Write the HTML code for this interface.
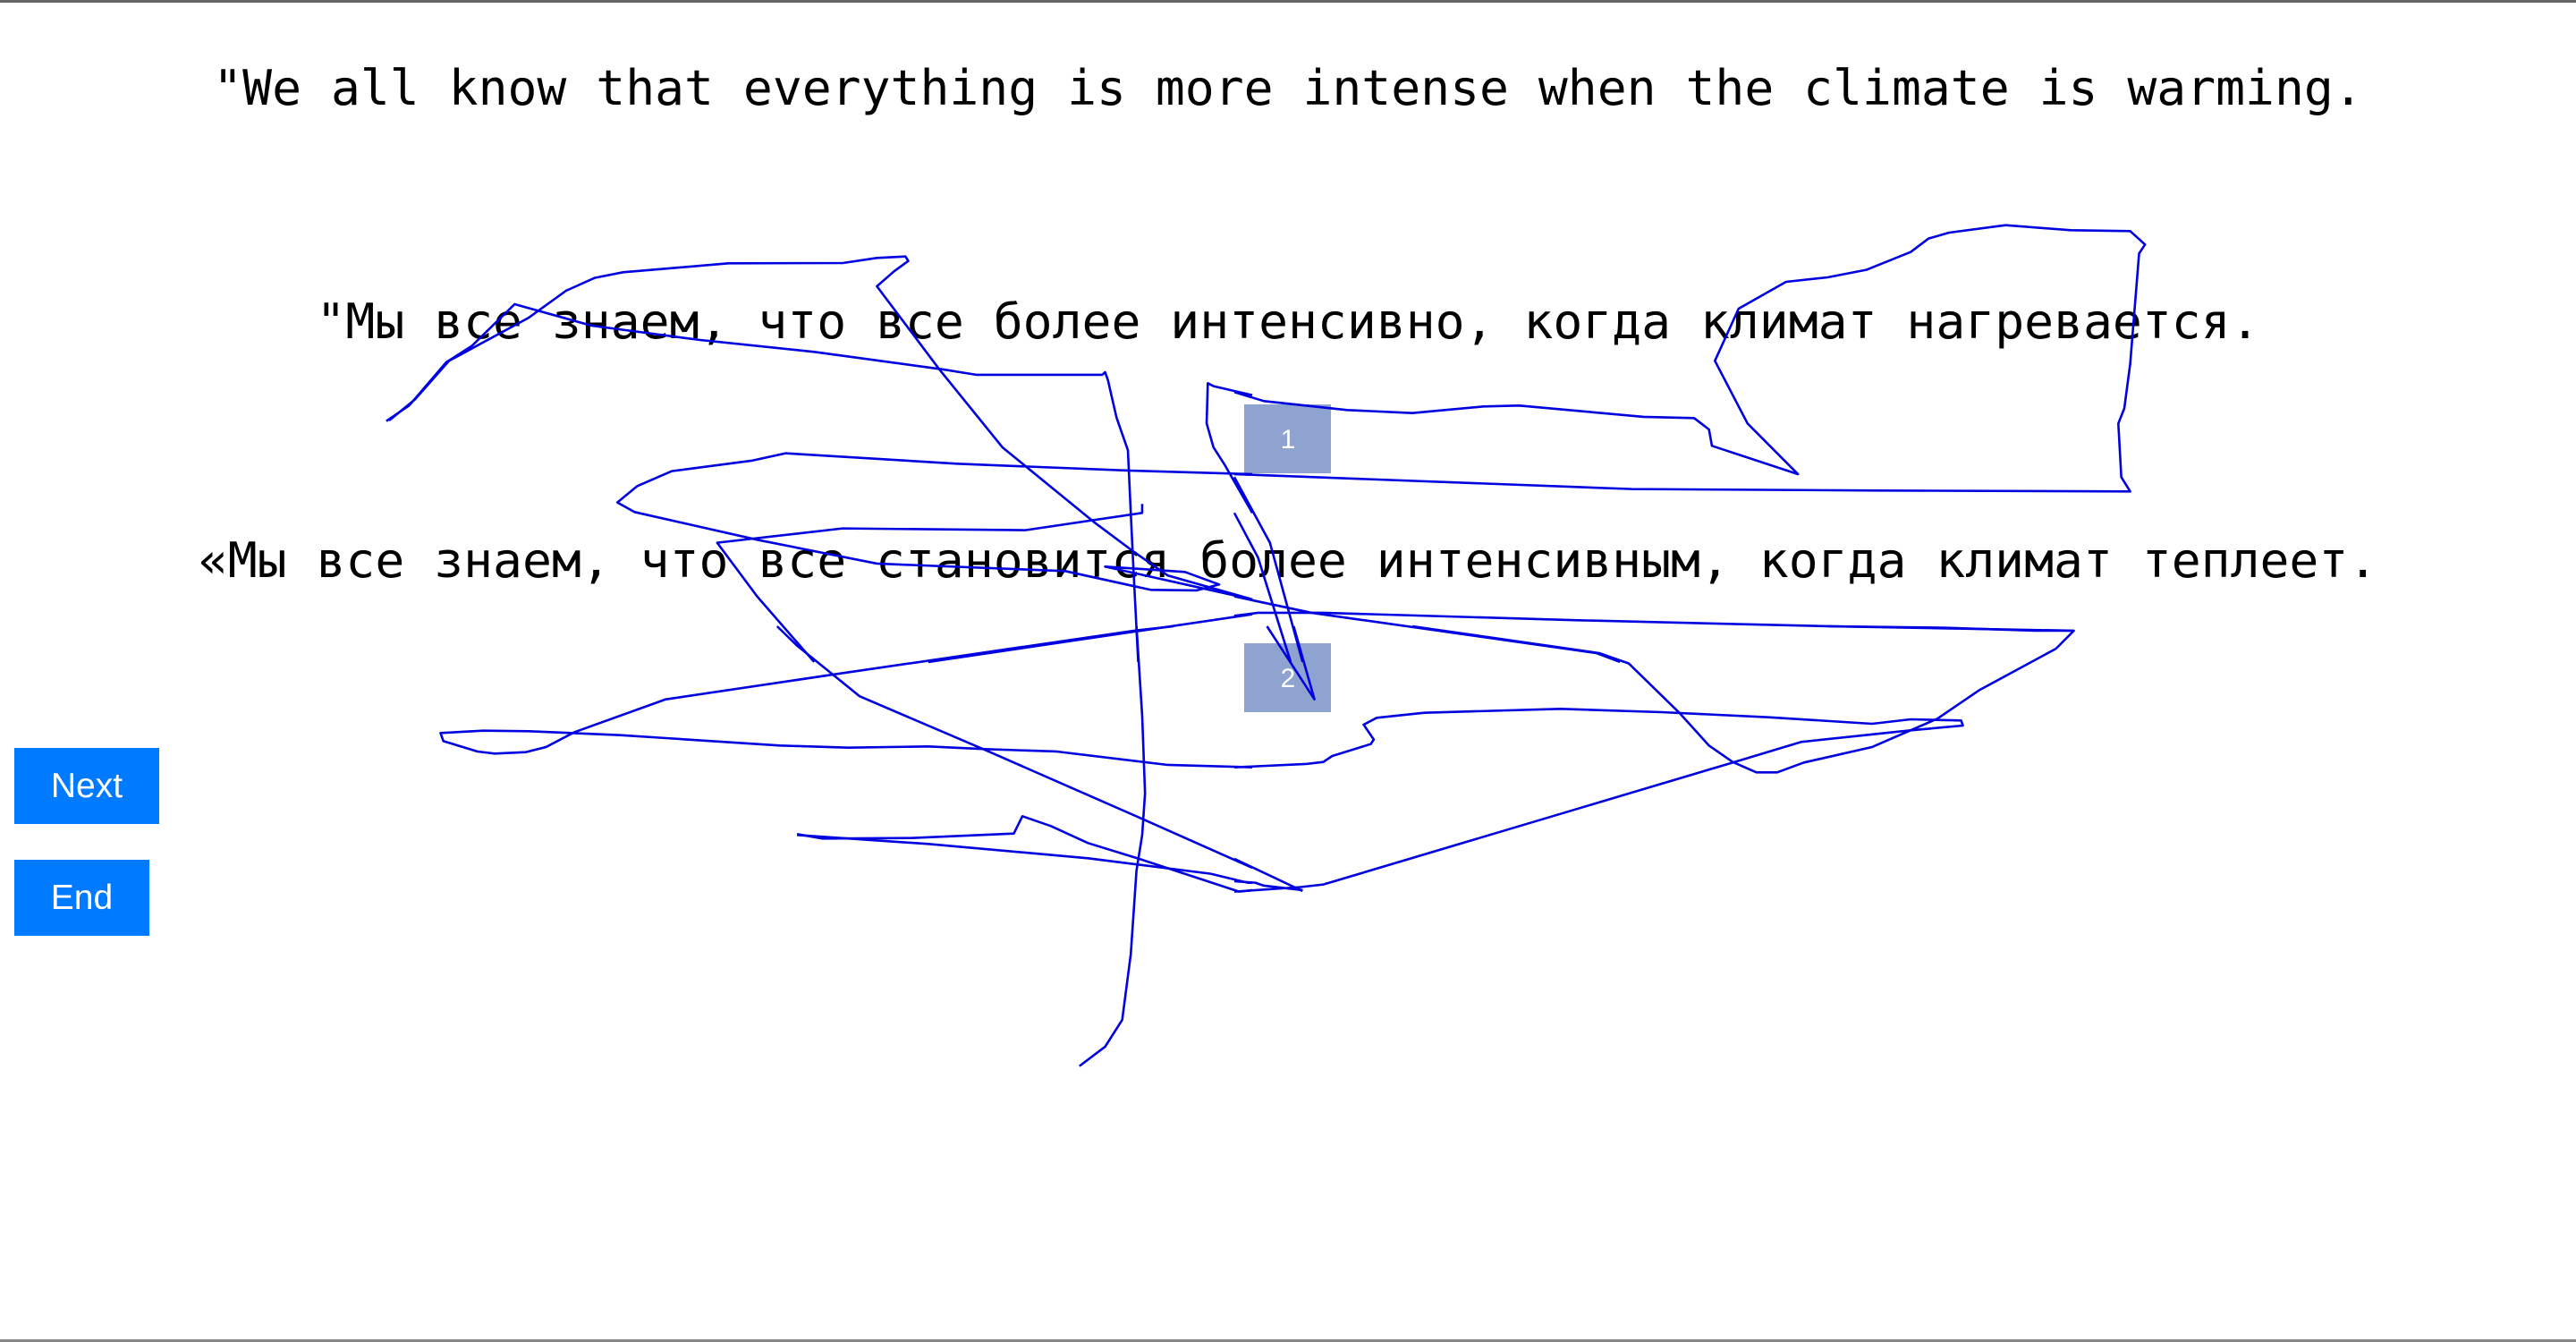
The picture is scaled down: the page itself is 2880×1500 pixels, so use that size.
<!DOCTYPE html>
<html><head><meta charset="utf-8"><style>
html,body{margin:0;padding:0;background:#fff;}
body{width:2880px;height:1500px;position:relative;overflow:hidden;}
.btn{position:absolute;left:16px;background:#007bff;color:#fff;font-family:"Liberation Sans",Arial,sans-serif;font-size:39px;display:flex;align-items:center;justify-content:center;}
</style></head><body>
<div style="position:absolute;left:0;top:0;width:2880px;height:3px;background:#666"></div>
<div style="position:absolute;left:0;top:1497px;width:2880px;height:3px;background:#888"></div>
<div class="btn" style="top:836px;width:162px;height:85px">Next</div>
<div class="btn" style="top:961px;width:151px;height:85px">End</div>
<svg width="2880" height="1500" style="position:absolute;left:0;top:0" xmlns="http://www.w3.org/2000/svg">
<g font-family="'DejaVu Sans Mono', 'Liberation Mono', monospace" font-size="54.7" fill="#000" text-anchor="middle">
<text x="1440" y="117">"We all know that everything is more intense when the climate is warming.</text>
<text x="1440" y="378">"Мы все знаем, что все более интенсивно, когда климат нагревается.</text>
<text x="1440" y="645">«Мы все знаем, что все становится более интенсивным, когда климат теплеет.</text>
</g>
<rect x="1391" y="452" width="97" height="77" fill="#8fa3d0"/>
<rect x="1391" y="719" width="97" height="77" fill="#8fa3d0"/>
<g font-family="'Liberation Sans',Arial,sans-serif" font-size="30" fill="#fff" text-anchor="middle">
<text x="1440" y="501">1</text>
<text x="1440" y="768">2</text>
</g>
<g fill="none" stroke="#0000e0" stroke-width="2.6" stroke-linejoin="round">
<g transform="translate(400,240) scale(0.6378,0.3333)">
<polyline vector-effect="non-scaling-stroke" points="50,692 90,640 155,495 200,440 275,300 410,372 600,420 800,460 1030,520 1085,537 1305,537 1310,528 1315,555 1330,680 1350,790 1355,1000 1360,1200 1368,1500"/>
<polyline vector-effect="non-scaling-stroke" points="55,690 100,620 160,490 300,345 365,255 415,212 465,193 650,163 850,162 910,145 960,140 965,155 940,190 910,240 1020,520 1130,780 1290,1030 1360,1130 1420,1210 1568,1290"/>
<polyline vector-effect="non-scaling-stroke" points="1568,605 1500,575 1490,565 1488,700 1500,780 1520,840 1568,1000"/>
<polyline vector-effect="non-scaling-stroke" points="1568,870 1350,858 1050,835 750,800 690,825 550,860 490,910 455,965 485,997 700,1090 910,1170 1240,1195 1390,1258 1470,1260 1510,1240 1450,1198 1310,1180 1568,1290"/>
<polyline vector-effect="non-scaling-stroke" points="1375,970 1375,1000 1170,1058 850,1052 630,1100 700,1280 800,1500"/>
<polyline vector-effect="non-scaling-stroke" points="1568,1340 1000,1500"/>
</g>
<g transform="translate(1380,240) scale(0.6633,0.3333)">
<polyline vector-effect="non-scaling-stroke" points="0,870 670,920 1090,925 1510,928 1495,880 1490,700 1500,650 1510,500 1525,130 1535,100 1510,55 1410,52 1300,35 1205,60 1170,80 1140,125 1065,185 1000,210 930,225 850,315 810,490 865,700 950,870 805,775 800,720 775,682 690,678 580,658 480,640 420,643 300,665 190,655 50,625 0,595"/>
<polyline vector-effect="non-scaling-stroke" points="0,1000 40,1150 95,1500"/>
<polyline vector-effect="non-scaling-stroke" points="0,880 60,1100 115,1500"/>
<polyline vector-effect="non-scaling-stroke" points="0,1280 130,1335 610,1470 650,1500"/>
<polyline vector-effect="non-scaling-stroke" points="1415,1395 1280,1390 1000,1380 580,1360 150,1335 40,1335 0,1345"/>
</g>
<g transform="translate(400,700) scale(0.6378,0.3333)">
<polyline vector-effect="non-scaling-stroke" points="735,0 770,65 880,235 1100,415 1380,650 1568,810"/>
<polyline vector-effect="non-scaling-stroke" points="1430,0 1360,15 840,160 540,245 380,355 330,405 295,422 240,427 210,420 150,385 145,358 220,350 300,352 460,365 540,375 740,400 860,407 1000,403 1100,412 1225,420 1420,465 1568,473"/>
<polyline vector-effect="non-scaling-stroke" points="1365,0 1375,300 1380,560 1375,700 1365,820 1355,1100 1340,1320 1310,1410 1265,1475"/>
<polyline vector-effect="non-scaling-stroke" points="770,697 815,712 970,710 1150,695 1165,637 1215,670 1280,727 1370,780 1545,890 1568,885"/>
<polyline vector-effect="non-scaling-stroke" points="770,700 1000,730 1280,778 1495,830 1560,860 1568,860"/>
</g>
<g transform="translate(1380,700) scale(0.6633,0.3333)">
<polyline vector-effect="non-scaling-stroke" points="55,0 135,245 100,0"/>
<polyline vector-effect="non-scaling-stroke" points="300,0 615,90 665,125 750,290 800,400 840,455 880,490 915,490 960,457 1075,405 1185,310 1255,215 1385,75 1415,15 1350,15 1200,5 1000,0"/>
<polyline vector-effect="non-scaling-stroke" points="0,473 120,462 150,455 165,435 230,395 235,380 218,330 240,307 320,290 550,277 720,288 900,305 1075,327 1140,312 1225,316 1228,333 1140,349 955,388 835,460 150,866 110,875 0,890"/>
<polyline vector-effect="non-scaling-stroke" points="0,780 115,888"/>
<polyline vector-effect="non-scaling-stroke" points="0,855 35,860 50,870 115,885"/>
</g>
</g>
</svg>
</body></html>
